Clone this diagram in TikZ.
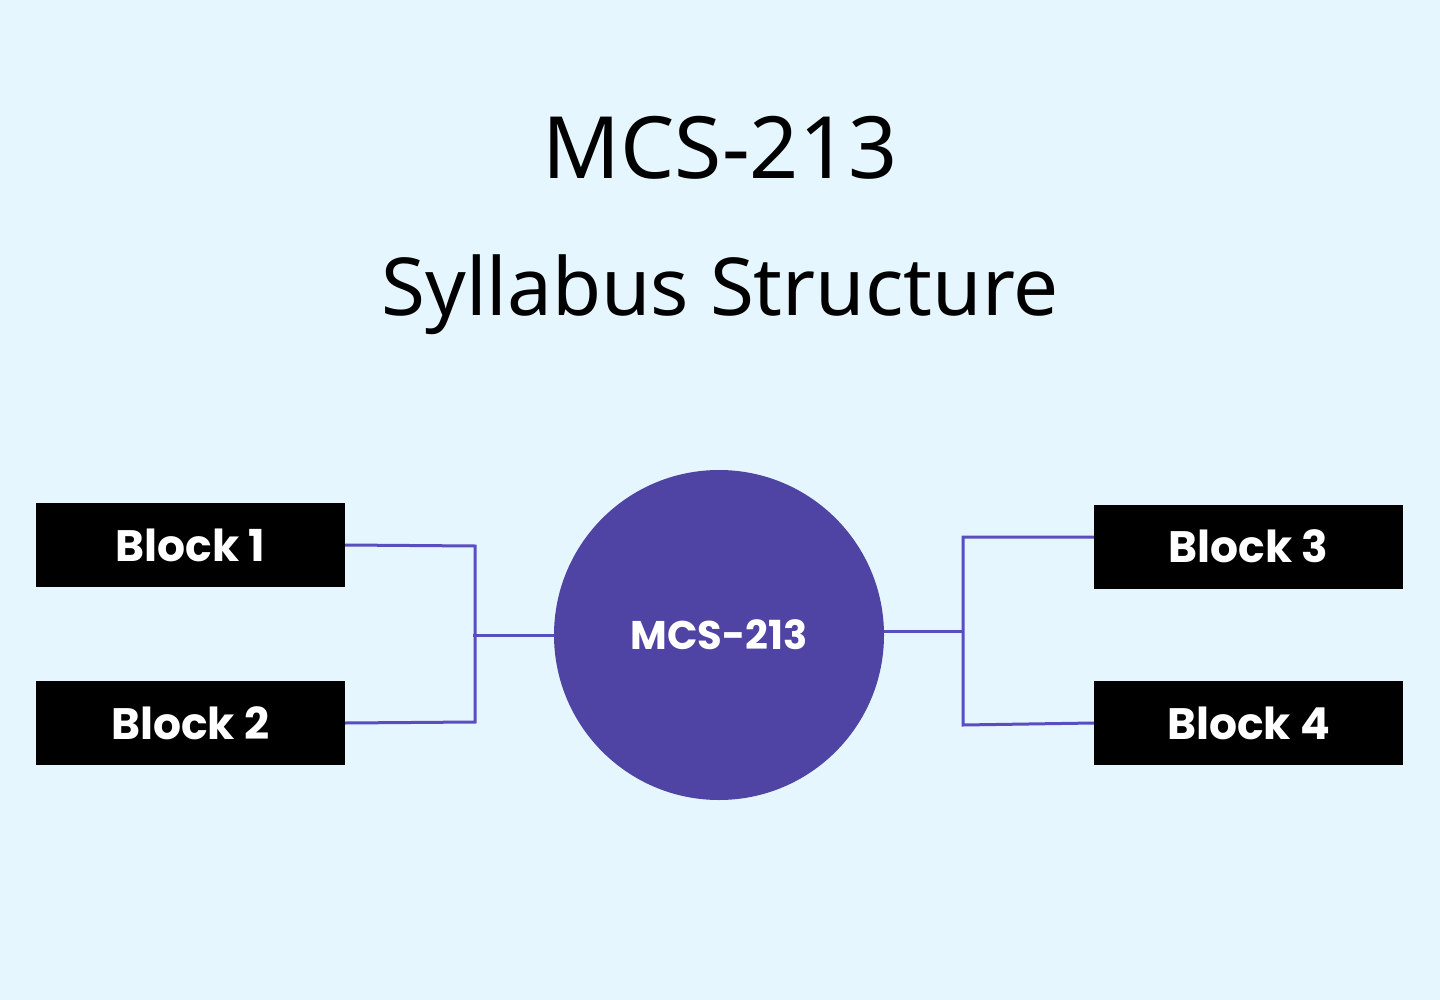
\documentclass[tikz,border=0pt]{standalone}
\usepackage{fontspec}
\setmainfont{Poppins}
\newfontfamily\titlefont{Noto Sans}
\definecolor{bg}{HTML}{E6F6FE}
\definecolor{circ}{HTML}{4F44A3}
\definecolor{ln}{HTML}{5A4DBF}
\begin{document}
\begin{tikzpicture}[x=1pt,y=-1pt,
  blockbox/.style={fill=black,minimum width=309pt,minimum height=84pt,inner sep=0pt,text=white,font=\fontsize{44}{48}\selectfont\bfseries},
  conn/.style={draw=ln,line width=3pt}]
\fill[bg] (0,0) rectangle (1440,1000);
\useasboundingbox (0,0) rectangle (1440,1000);
\node (t1) at (720,148) {\titlefont\bfseries\fontsize{86}{90}\selectfont MCS-213};
\node (t2) at (720,295) {\titlefont\bfseries\fontsize{80}{84}\selectfont Syllabus Structure};
\node[circle,fill=circ,minimum size=330pt,inner sep=0pt,text=white,font=\fontsize{40}{44}\selectfont\bfseries] (c) at (719,635) {MCS-213};
\node[blockbox] (b1) at (190.5,545) {Block 1};
\node[blockbox] (b2) at (190.5,723) {Block 2};
\node[blockbox] (b3) at (1248.5,546.5) {Block 3};
\node[blockbox] (b4) at (1248.5,723) {Block 4};
\coordinate (l1) at (475,546);
\coordinate (l2) at (475,722);
\coordinate (lm) at (473,635);
\coordinate (r1) at (963,537);
\coordinate (r2) at (963,725);
\coordinate (rm) at (963,631);
\draw[conn] (b1.east) -- (l1) -- (l2) -- (b2.east);
\draw[conn] (lm) -- (c.west);
\draw[conn] (c.east |- rm) -- (rm);
\draw[conn] (b3.west |- r1) -- (r1) -- (r2) -- (b4.west);
\end{tikzpicture}
\end{document}
